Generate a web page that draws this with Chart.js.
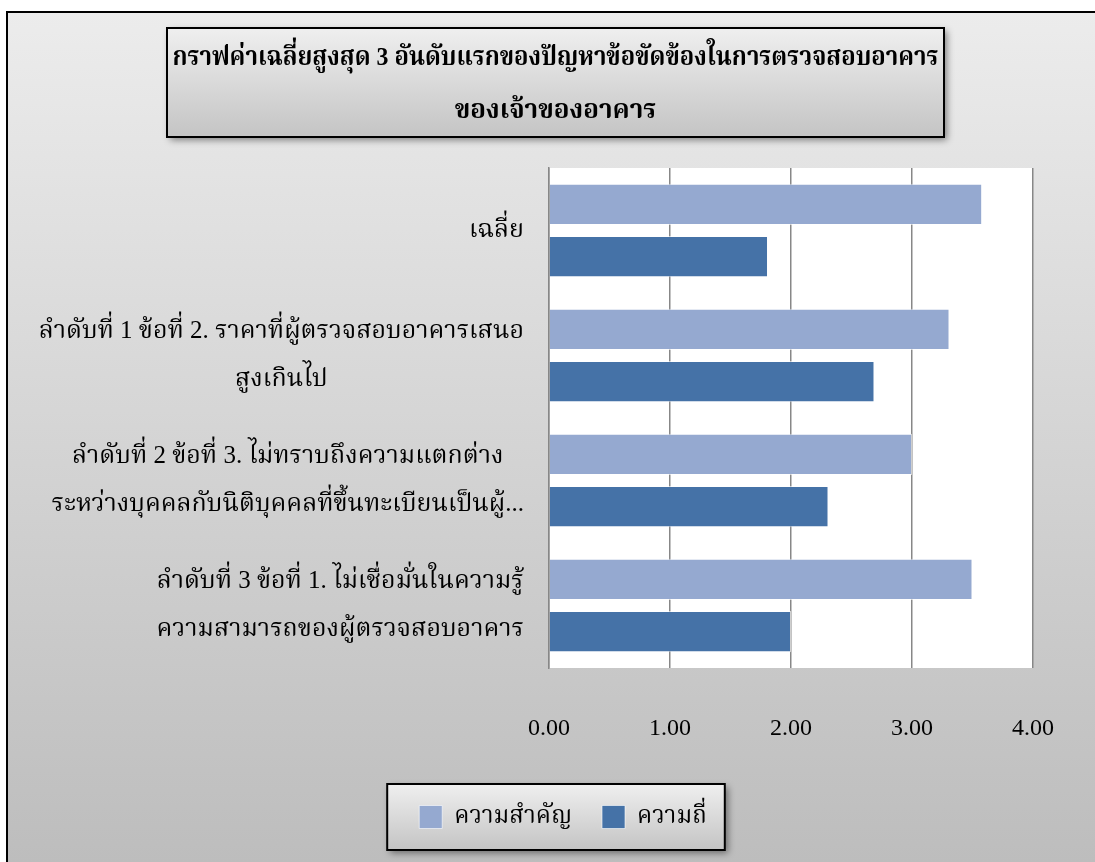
<!DOCTYPE html>
<html>
<head>
<meta charset="utf-8">
<script src="https://cdn.jsdelivr.net/npm/chart.js@4"></script>
<style>
  html, body { margin: 0; padding: 0; background: #fff; }
  #wrap { width: 1095px; height: 862px; }
</style>
</head>
<body>
<div id="wrap"><canvas id="myChart" width="1095" height="862"></canvas></div>
<script>
// categories (multi-line), series and axis ticks
const categories = [
  ['เฉลี่ย'],
  ['ลำดับที่ 1 ข้อที่ 2. ราคาที่ผู้ตรวจสอบอาคารเสนอ', 'สูงเกินไป'],
  ['ลำดับที่ 2 ข้อที่ 3. ไม่ทราบถึงความแตกต่าง', 'ระหว่างบุคคลกับนิติบุคคลที่ขึ้นทะเบียนเป็นผู้...'],
  ['ลำดับที่ 3 ข้อที่ 1. ไม่เชื่อมั่นในความรู้', 'ความสามารถของผู้ตรวจสอบอาคาร']
];
const seriesNames = ['ความสำคัญ', 'ความถี่'];
const importance = [3.58, 3.31, 3.00, 3.50];
const frequency = [1.81, 2.69, 2.31, 2.00];
const xTicks = [0, 1, 2, 3, 4];
const titleLines = [
  'กราฟค่าเฉลี่ยสูงสุด 3 อันดับแรกของปัญหาข้อขัดข้องในการตรวจสอบอาคาร',
  'ของเจ้าของอาคาร'
];

const FONT = "'Liberation Serif', 'Noto Serif Thai', 'Noto Sans Thai', serif";
const colors = ['#95a9d0', '#4572a7'];

function boxGradient(ctx, top, bottom, c1, c2) {
  const g = ctx.createLinearGradient(0, top, 0, bottom);
  g.addColorStop(0, c1);
  g.addColorStop(1, c2);
  return g;
}

function shadowBox(ctx, x, y, w, h) {
  ctx.save();
  ctx.shadowColor = 'rgba(0,0,0,0.45)';
  ctx.shadowBlur = 7;
  ctx.shadowOffsetX = 3;
  ctx.shadowOffsetY = 3;
  ctx.fillStyle = boxGradient(ctx, y, y + h, '#efefef', '#c4c4c4');
  ctx.fillRect(x, y, w, h);
  ctx.restore();
  ctx.save();
  ctx.strokeStyle = '#000';
  ctx.lineWidth = 2;
  ctx.strokeRect(x, y, w, h);
  ctx.restore();
}

// background frame, plot fill, title box and legend box
const framePlugin = {
  id: 'frame',
  beforeDraw(chart) {
    const ctx = chart.ctx;
    const W = chart.width, H = chart.height;
    ctx.save();
    ctx.fillStyle = '#fff';
    ctx.fillRect(0, 0, W, H);
    ctx.fillStyle = boxGradient(ctx, 11, H, '#ececec', '#bdbdbd');
    ctx.fillRect(6, 11, W, H);
    ctx.strokeStyle = '#000';
    ctx.lineWidth = 2;
    ctx.strokeRect(7, 12, W + 10, H + 10);

    const a = chart.chartArea;
    ctx.fillStyle = '#fff';
    ctx.fillRect(a.left, a.top, a.right - a.left, a.bottom - a.top);

    // title
    shadowBox(ctx, 167, 28, 777, 109);
    ctx.fillStyle = '#000';
    ctx.textAlign = 'center';
    ctx.textBaseline = 'middle';
    ctx.font = 'bold 26px ' + FONT;
    const cx = 167 + 777 / 2;
    const maxW = 766;
    [58, 111].forEach((y, i) => {
      const w = ctx.measureText(titleLines[i]).width;
      ctx.save();
      ctx.translate(cx, y);
      if (w > maxW) ctx.scale(maxW / w, 1);
      ctx.fillText(titleLines[i], 0, 0);
      ctx.restore();
    });

    // legend frame
    const lg = chart.legend;
    if (lg && lg.legendHitBoxes && lg.legendHitBoxes.length) {
      const hb = lg.legendHitBoxes;
      const l = hb[0].left - 32;
      const r = hb[hb.length - 1].left + hb[hb.length - 1].width + 18;
      shadowBox(ctx, l, 784, r - l, 66);
    }
    ctx.restore();
  },
  afterDraw(chart) {
    // category labels: each block right-aligned, its lines centred
    const ctx = chart.ctx;
    const ys = chart.scales.y;
    const right = chart.chartArea.left - 25;
    const lh = 48;
    ctx.save();
    ctx.font = '25px ' + FONT;
    ctx.fillStyle = '#000';
    ctx.textAlign = 'center';
    ctx.textBaseline = 'middle';
    categories.forEach((lines, i) => {
      const yc = ys.getPixelForTick(i);
      const bw = Math.max(...lines.map(t => ctx.measureText(t).width));
      const cx = right - bw / 2;
      lines.forEach((t, j) => {
        ctx.fillText(t, cx, yc + (j - (lines.length - 1) / 2) * lh);
      });
    });
    ctx.restore();
  }
};

const data = {
  labels: categories,
  datasets: [
    {
      label: seriesNames[0],
      data: importance,
      backgroundColor: colors[0],
      borderColor: 'rgba(255,255,255,0.6)',
      borderWidth: 1,
      categoryPercentage: 0.834,
      barPercentage: 0.79
    },
    {
      label: seriesNames[1],
      data: frequency,
      backgroundColor: colors[1],
      borderColor: 'rgba(255,255,255,0.6)',
      borderWidth: 1,
      categoryPercentage: 0.834,
      barPercentage: 0.79
    }
  ]
};

const config = {
  type: 'bar',
  data: data,
  options: {
    indexAxis: 'y',
    responsive: false,
    animation: false,
    layout: { padding: { top: 168, left: 93, right: 62, bottom: 23 } },
    scales: {
      x: {
        min: xTicks[0],
        max: xTicks[xTicks.length - 1],
        afterBuildTicks: s => { s.ticks = xTicks.map(v => ({ value: v })); },
        afterFit: s => { s.height = 107; },
        ticks: {
          callback: v => Number(v).toFixed(2),
          font: { family: FONT, size: 24 },
          color: '#000',
          padding: 4,
          maxRotation: 0
        },
        // invisible tick marks push the labels down without widening the side padding
        grid: {
          color: '#878787',
          lineWidth: 1.5,
          drawTicks: true,
          tickLength: 42,
          tickColor: 'rgba(0,0,0,0)'
        },
        border: { display: false }
      },
      y: {
        afterFit: s => { s.width = 456; },
        ticks: { display: false },
        grid: { display: false, drawTicks: false },
        border: { display: true, color: '#878787', width: 1.5 }
      }
    },
    plugins: {
      title: { display: false },
      tooltip: { enabled: false },
      legend: {
        position: 'bottom',
        labels: {
          font: { family: FONT, size: 24 },
          color: '#000',
          boxWidth: 23,
          boxHeight: 23,
          padding: 30
        }
      }
    }
  },
  plugins: [framePlugin]
};

const myChart = new Chart(document.getElementById('myChart'), config);
</script>
</body>
</html>
